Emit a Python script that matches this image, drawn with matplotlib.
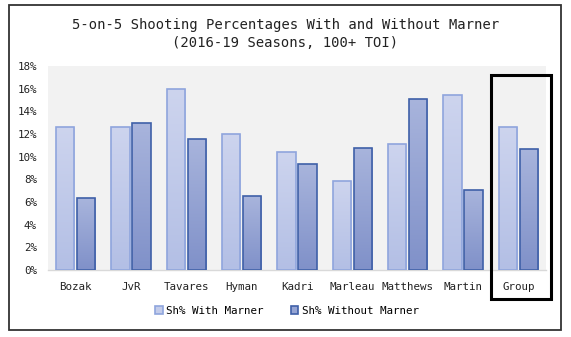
import numpy as np
import matplotlib
matplotlib.use("Agg")
import matplotlib.pyplot as plt
from matplotlib.patches import Rectangle
from matplotlib.colors import LinearSegmentedColormap
from matplotlib.ticker import FuncFormatter

players = ["Bozak", "JvR", "Tavares", "Hyman", "Kadri", "Marleau", "Matthews", "Martin", "Group"]
with_marner = [12.65, 12.65, 15.95, 12.03, 10.38, 7.82, 11.15, 15.41, 12.62]
without_marner = [6.33, 12.94, 11.56, 6.5, 9.32, 10.8, 15.09, 7.09, 10.71]
series_names = ["Sh% With Marner", "Sh% Without Marner"]

plt.rcParams["font.family"] = "DejaVu Sans Mono"

fig = plt.figure(figsize=(5.71, 3.37), dpi=100)
ax = fig.add_axes([48 / 571, 1 - 270 / 337, 498 / 571, 204 / 337])
ax.set_facecolor("#F2F2F2")

x = np.arange(len(players))
w = 0.33
off = 0.19

light = LinearSegmentedColormap.from_list("l", ["#B3BFE5", "#CDD4EE"])
dark = LinearSegmentedColormap.from_list("d", ["#8091C9", "#A8B4DC"])
grad = np.linspace(0, 1, 100).reshape(-1, 1)

b1 = ax.bar(x - off, with_marner, w, color="#C3CCEA", edgecolor="#8FA5DD",
            linewidth=1.2, label=series_names[0], zorder=2)
b2 = ax.bar(x + off, without_marner, w, color="#95A4D3", edgecolor="#3F60A8",
            linewidth=1.2, label=series_names[1], zorder=2)

# gradient fill clipped to each bar
for bars, cm in [(b1, light), (b2, dark)]:
    for b in bars:
        x0, y0 = b.get_x(), b.get_y()
        im = ax.imshow(grad, cmap=cm, origin="lower", aspect="auto",
                       extent=[x0, x0 + b.get_width(), y0, y0 + b.get_height()],
                       zorder=2.5)
        im.set_clip_path(b)
        b.set_facecolor("none")
        b.set_zorder(3)

ax.set_xlim(-0.5, len(players) - 0.5)
ax.set_ylim(0, 18)
ax.set_yticks(np.arange(0, 19, 2))
ax.yaxis.set_major_formatter(FuncFormatter(lambda v, p: "%d%%" % v))
ax.set_xticks(x)
ax.set_xticklabels(players)
ax.tick_params(axis="both", length=0, labelsize=7.8, colors="#222222")
ax.tick_params(axis="x", pad=9)
ax.tick_params(axis="y", pad=8)
for s in ["top", "right", "left"]:
    ax.spines[s].set_visible(False)
ax.spines["bottom"].set_color("#D9D9D9")
ax.spines["bottom"].set_linewidth(1.0)

fig.text(0.5, 1 - 25 / 337, "5-on-5 Shooting Percentages With and Without Marner",
         ha="center", va="center", fontsize=10, color="#222222")
fig.text(0.5, 1 - 43 / 337, "(2016-19 Seasons, 100+ TOI)",
         ha="center", va="center", fontsize=10, color="#222222")

leg = fig.legend(handles=[b1, b2], loc="center", bbox_to_anchor=(287 / 571, 1 - 311 / 337),
                 ncol=2, frameon=False, fontsize=7.8, handlelength=0.7, handleheight=0.7,
                 handletextpad=0.3, columnspacing=2.5)
leg.legend_handles[0].set_facecolor("#C3CCEA")
leg.legend_handles[1].set_facecolor("#95A4D3")

# highlight box around Group
fig.add_artist(Rectangle((491 / 571, 1 - 299 / 337), 60 / 571, 224 / 337,
                         transform=fig.transFigure, fill=False, edgecolor="black",
                         linewidth=2.2, zorder=10))

# outer border
fig.add_artist(Rectangle((8.5 / 571, 1 - 330 / 337), 552 / 571, 325 / 337,
                         transform=fig.transFigure, fill=False, edgecolor="#333333",
                         linewidth=1.3, zorder=10))

fig.savefig("out.png", dpi=100)
